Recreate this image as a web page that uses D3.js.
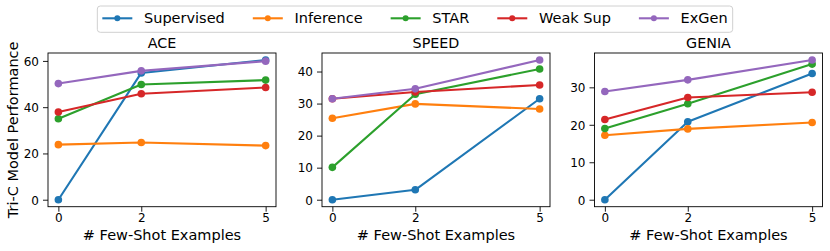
<!DOCTYPE html>
<html><head><meta charset="utf-8">
<script src="https://cdn.jsdelivr.net/npm/d3@7"></script>
<style>body{margin:0;background:#fff}svg{display:block}text{font-family:"DejaVu Sans",sans-serif;fill:#000}</style>
</head><body><svg id="c" width="830" height="251"></svg>
<script>
const shots = [0, 2, 5];
const seriesNames = ["Supervised", "Inference", "STAR", "Weak Sup", "ExGen"];
const datasets = ["ACE", "SPEED", "GENIA"];
const aceValues = [[0, 54.8, 60.4],[23.8, 24.7, 23.4],[35.0, 49.8, 51.7],[37.9, 45.8, 48.5],[50.2, 55.7, 59.9]];
const speedValues = [[0, 3.1, 31.5],[25.4, 29.9, 28.3],[10.1, 32.9, 40.8],[31.5, 33.6, 35.8],[31.5, 34.6, 43.6]];
const geniaValues = [[0, 20.8, 33.7],[17.2, 18.9, 20.6],[19.0, 25.6, 36.2],[21.4, 27.3, 28.7],[28.9, 32.0, 37.3]];
const yTicks = [[0,20,40,60],[0,10,20,30,40],[0,10,20,30]];
const xLabel = "# Few-Shot Examples";
const yLabel = "Tri-C Model Performance";
const colors = ["#1f77b4","#ff7f0e","#2ca02c","#d62728","#9467bd"];

(function(){
const allValues = [aceValues, speedValues, geniaValues];
const svg = d3.select("#c");
const panelLeft = [48, 322, 594.5], panelW = 228, yTop = 53, yBot = 206.7;

datasets.forEach((name, i) => {
  const vals = allValues[i];
  const flat = vals.flat();
  const ymin = d3.min(flat), ymax = d3.max(flat), yr = ymax - ymin;
  const x = d3.scaleLinear().domain([-0.25, 5.25]).range([panelLeft[i], panelLeft[i] + panelW]);
  const y = d3.scaleLinear().domain([ymin - 0.05*yr, ymax + 0.05*yr]).range([yBot, yTop]);
  const g = svg.append("g");
  const xa = g.append("g").attr("transform", `translate(0,${yBot})`)
    .call(d3.axisBottom(x).tickValues(shots).tickSize(5).tickPadding(4).tickFormat(d3.format("d")));
  const ya = g.append("g").attr("transform", `translate(${panelLeft[i]},0)`)
    .call(d3.axisLeft(y).tickValues(yTicks[i]).tickSize(5).tickPadding(4).tickFormat(d3.format("d")));
  [xa, ya].forEach(a => {
    a.select(".domain").remove();
    a.selectAll("text").attr("font-size", 12).attr("font-family", "DejaVu Sans").attr("fill", "#000");
    a.selectAll("line").attr("stroke", "#000").attr("stroke-width", 0.9);
  });
  xa.selectAll("text").attr("dy", null).attr("y", 15);
  ya.selectAll("text").attr("dy", "0.36em");
  const line = d3.line().x((d, k) => x(shots[k])).y(d => y(d));
  vals.forEach((s, si) => {
    g.append("path").datum(s).attr("d", line).attr("fill", "none")
      .attr("stroke", colors[si]).attr("stroke-width", 2.1).attr("stroke-linejoin", "round");
    g.selectAll(null).data(s).enter().append("circle")
      .attr("cx", (d, k) => x(shots[k])).attr("cy", d => y(d)).attr("r", 3.8).attr("fill", colors[si]);
  });
  g.append("rect").attr("x", panelLeft[i]).attr("y", yTop).attr("width", panelW).attr("height", yBot - yTop)
    .attr("fill", "none").attr("stroke", "#000").attr("stroke-width", 0.9);
  g.append("text").attr("x", panelLeft[i] + panelW/2).attr("y", 48.3).attr("text-anchor", "middle")
    .attr("font-size", 14.3).text(name);
  g.append("text").attr("x", panelLeft[i] + panelW/2).attr("y", 240).attr("text-anchor", "middle")
    .attr("font-size", 14.5).text(xLabel);
});
svg.append("text").attr("transform", `translate(17.5,${(yTop+yBot)/2}) rotate(-90)`)
  .attr("text-anchor", "middle").attr("font-size", 14.5).text(yLabel);

const lg = svg.append("g");
const box = lg.append("rect").attr("fill", "#fff").attr("fill-opacity", 0.8).attr("stroke", "#d0d0d0")
  .attr("stroke-width", 1).attr("rx", 3);
const hl = 30, tp = 11.7, cg = 28;
let cx = 0;
const items = [];
seriesNames.forEach((n, si) => {
  const it = lg.append("g");
  it.append("line").attr("x1", 0).attr("x2", hl).attr("y1", 18.3).attr("y2", 18.3)
    .attr("stroke", colors[si]).attr("stroke-width", 2.1);
  it.append("circle").attr("cx", hl/2).attr("cy", 18.3).attr("r", 3).attr("fill", colors[si]);
  const t = it.append("text").attr("x", hl + tp).attr("y", 23.2).attr("font-size", 14.5).text(n);
  const w = t.node().getComputedTextLength();
  items.push({it, x: cx});
  cx += hl + tp + w + cg;
});
const totalW = cx - cg;
const startX = 415 - totalW/2;
items.forEach(o => o.it.attr("transform", `translate(${startX + o.x},0)`));
box.attr("x", startX - 5).attr("y", 6).attr("width", totalW + 10).attr("height", 26.3);
})();
</script></body></html>
